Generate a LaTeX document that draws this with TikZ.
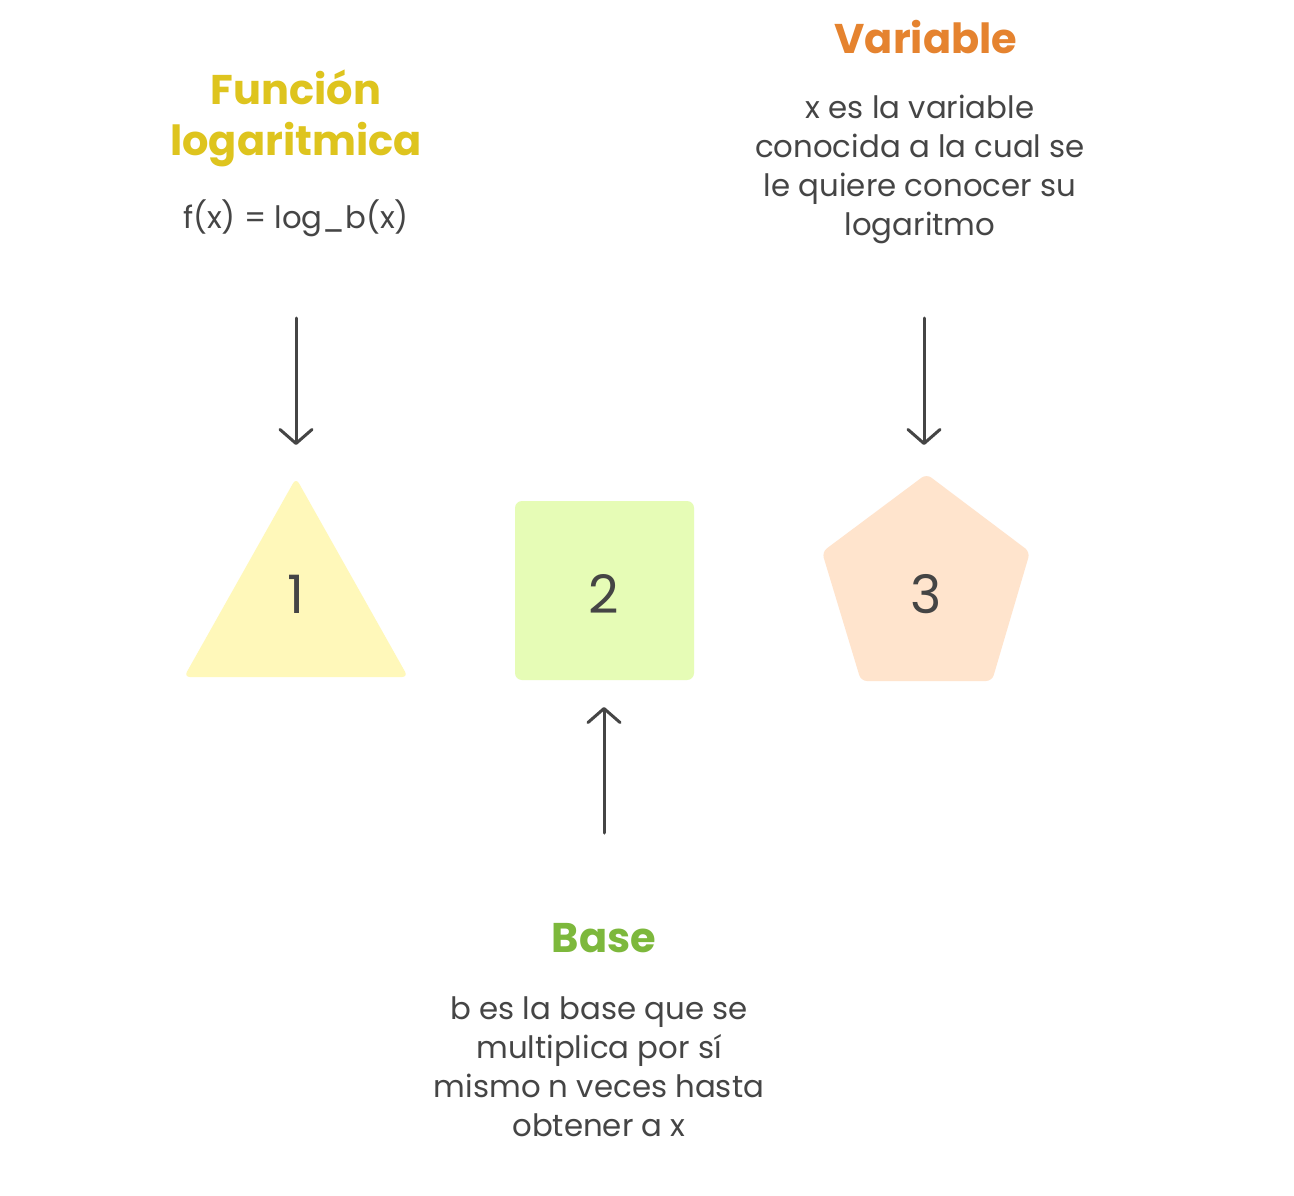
\documentclass[tikz,border=0pt]{standalone}
\usepackage{fontspec}
\setmainfont{Poppins}
\newfontfamily\titlefont{Poppins}
\usetikzlibrary{shapes.geometric,arrows.meta}
\definecolor{ink}{HTML}{454545}
\definecolor{ttlyellow}{HTML}{DEC41E}
\definecolor{ttlorange}{HTML}{E5832F}
\definecolor{ttlgreen}{HTML}{7DB83C}
\definecolor{fillyellow}{HTML}{FFF8BA}
\definecolor{fillgreen}{HTML}{E6FCB6}
\definecolor{fillorange}{HTML}{FFE4CD}
\tikzset{
  ttl/.style={font=\titlefont\bfseries\fontsize{41.5}{51}\selectfont, align=center, inner sep=0pt},
  body/.style={font=\fontsize{30.8}{39}\selectfont, text=ink, align=center, inner sep=0pt},
  num/.style={font=\fontsize{53}{53}\selectfont, text=ink, inner sep=0pt},
  shapebox/.style={inner sep=0pt, rounded corners=6pt},
  arr/.style={draw=ink, line width=3pt, line cap=round, -{Straight Barb[length=14pt,width=32pt,line width=3pt,round]}},
}
\begin{document}
\begin{tikzpicture}[x=1pt,y=-1pt]
\useasboundingbox[fill=white] (0,0) rectangle (1294,1196);
% shapes
\fill[fillyellow, shapebox] (296,478) -- (408,677) -- (184,677) -- cycle;
\coordinate (tri) at (296,594);
\node[shapebox, rounded corners=7pt, rectangle, minimum width=179pt, minimum height=179pt, fill=fillgreen] (sq) at (604.5,590.5) {};
\fill[fillorange, shapebox] (926.5,474) -- (1030,552) -- (992,681) -- (861,681) -- (822,552) -- cycle;
\coordinate (pent) at (926,594);
\node[num] (n1) at (tri) {1};
\node[num] (n2) at (604,594) {2};
\node[num] (n3) at (pent) {3};
% texts
\node[ttl, text=ttlyellow] (t1) at (296,118) {Función\\logaritmica};
\node[body] (b1) at (296,218) {f(x) = log\_b(x)};
\node[ttl, text=ttlorange] (t3) at (926,37) {Variable};
\node[body] (b3) at (920,169) {x es la variable\\conocida a la cual se\\le quiere conocer su\\logaritmo};
\node[ttl, text=ttlgreen] (t2) at (604,938) {Base};
\node[body] (b2) at (599,1067) {b es la base que se\\multiplica por sí\\mismo n veces hasta\\obtener a x};
% arrow anchors
\coordinate (s1) at (296,318);
\coordinate (e1) at (296,445);
\coordinate (s3) at (924,318);
\coordinate (e3) at (924,445);
\coordinate (s2) at (604,833);
\coordinate (e2) at (604,707);
\draw[arr] (s1) -- (e1);
\draw[arr] (s3) -- (e3);
\draw[arr] (s2) -- (e2);
\end{tikzpicture}
\end{document}
